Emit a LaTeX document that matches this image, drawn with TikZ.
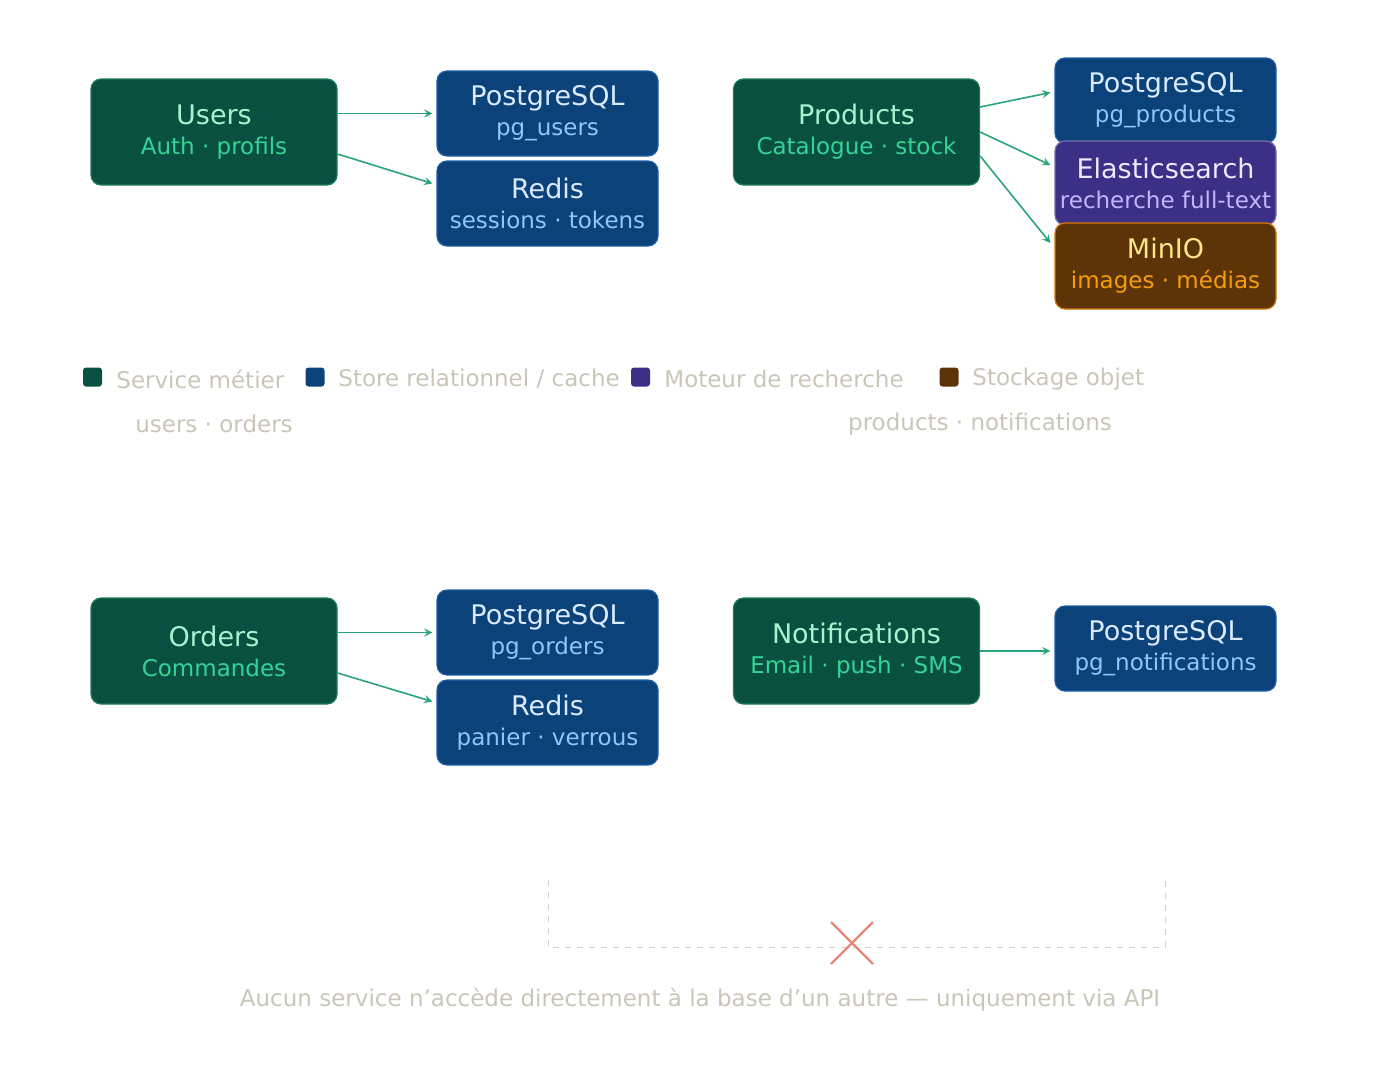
\documentclass[tikz,border=0pt]{standalone}
\usepackage{fontspec}
\setmainfont{DejaVu Sans}
\usetikzlibrary{positioning}
\definecolor{svcfill}{HTML}{0A5040}
\definecolor{svcline}{HTML}{1F7A5C}
\definecolor{svctitle}{HTML}{A7F3D0}
\definecolor{svcsub}{HTML}{34D399}
\definecolor{dbfill}{HTML}{0B4279}
\definecolor{dbline}{HTML}{1E5FA8}
\definecolor{dbtitle}{HTML}{DBEAFE}
\definecolor{dbsub}{HTML}{93C5FD}
\definecolor{esfill}{HTML}{3B3086}
\definecolor{estitle}{HTML}{EDE9FE}
\definecolor{essub}{HTML}{C4B5FD}
\definecolor{objfill}{HTML}{5C3408}
\definecolor{objline}{HTML}{D97706}
\definecolor{objtitle}{HTML}{FDE68A}
\definecolor{objsub}{HTML}{F59E0B}
\definecolor{legtext}{HTML}{C9C6B8}
\definecolor{link}{HTML}{2AA57A}
\definecolor{cross}{HTML}{EA857A}
\newcommand{\tl}[2]{{\fontsize{13.5pt}{14pt}\selectfont #1}\\[3pt]{\fontsize{11.5pt}{12pt}\selectfont #2}}
\begin{document}
\begin{tikzpicture}
  [
    x=0.5pt, y=-0.5pt,
    box/.style={rounded corners=5pt, align=center, inner sep=0pt, line width=0.6pt},
    svc/.style={box, fill=svcfill, draw=svcline, minimum width=123pt, minimum height=53pt},
    db/.style={box, fill=dbfill, draw=dbline, minimum width=110.5pt, minimum height=42.5pt},
    es/.style={box, fill=esfill, draw=esfill!70!white, minimum width=110.5pt, minimum height=42pt},
    obj/.style={box, fill=objfill, draw=objline, minimum width=110.5pt, minimum height=43pt},
    legbox/.style={rounded corners=1.5pt, minimum size=9.5pt, inner sep=0pt},
    legtxt/.style={text=legtext, font=\fontsize{11.5pt}{12pt}\selectfont, anchor=west, inner sep=0pt},
    link/.style={draw=link, line width=0.8pt, ->, >=stealth}
  ]
  \useasboundingbox (0,0) rectangle (1400,1071);
  % top-left: users
  \node[svc, text=svctitle] (users) at (214,132) {\tl{Users}{\color{svcsub}Auth · profils}};
  \node[db, text=dbtitle] (pgusers) at (547.5,113.5) {\tl{PostgreSQL}{\color{dbsub}pg\_users}};
  \node[db, text=dbtitle] (redisusers) at (547.5,203.5) {\tl{Redis}{\color{dbsub}sessions · tokens}};
  % top-right: products
  \node[svc, text=svctitle] (products) at (856.5,132) {\tl{Products}{\color{svcsub}Catalogue · stock}};
  \node[db, text=dbtitle] (pgproducts) at (1165.5,100.5) {\tl{PostgreSQL}{\color{dbsub}pg\_products}};
  \node[es, text=estitle] (elastic) at (1165.5,183) {\tl{Elasticsearch}{\color{essub}recherche full-text}};
  \node[obj, text=objtitle] (minio) at (1165.5,266) {\tl{MinIO}{\color{objsub}images · médias}};
  % bottom-left: orders
  \node[svc, text=svctitle] (orders) at (214,651) {\tl{Orders}{\color{svcsub}Commandes}};
  \node[db, text=dbtitle] (pgorders) at (547.5,632.5) {\tl{PostgreSQL}{\color{dbsub}pg\_orders}};
  \node[db, text=dbtitle] (redisorders) at (547.5,722.5) {\tl{Redis}{\color{dbsub}panier · verrous}};
  % bottom-right: notifications
  \node[svc, text=svctitle] (notif) at (856.5,651) {\tl{Notifications}{\color{svcsub}Email · push · SMS}};
  \node[db, text=dbtitle] (pgnotif) at (1165.5,648.5) {\tl{PostgreSQL}{\color{dbsub}pg\_notifications}};
  % links
  \draw[link] (users.east |- pgusers.west) -- ([xshift=-2pt]pgusers.west);
  \draw[link] ([yshift=-11pt]users.east) -- ([xshift=-2pt,yshift=10pt]redisusers.west);
  \draw[link] ([yshift=12.5pt]products.east) -- ([xshift=-2pt,yshift=4pt]pgproducts.west);
  \draw[link] (products.east) -- ([xshift=-2pt,yshift=9pt]elastic.west);
  \draw[link] ([yshift=-12pt]products.east) -- ([xshift=-2pt,yshift=11.5pt]minio.west);
  \draw[link] (orders.east |- pgorders.west) -- ([xshift=-2pt]pgorders.west);
  \draw[link] ([yshift=-11pt]orders.east) -- ([xshift=-2pt,yshift=10.5pt]redisorders.west);
  \draw[link] (notif.east |- 0,651) coordinate (nstart) -- ([xshift=-2pt]pgnotif.west |- nstart);
  % legend
  \node[legbox, fill=svcfill] (lsvc) at (92.5,377) {};
  \node[legtxt] (tsvc) at (116,379) {Service métier};
  \node[legbox, fill=dbfill] (ldb) at (315,377) {};
  \node[legtxt] (tdb) at (338,379) {Store relationnel / cache};
  \node[legbox, fill=esfill] (les) at (640.5,377) {};
  \node[legtxt] (tes) at (664,379) {Moteur de recherche};
  \node[legbox, fill=objfill] (lobj) at (949,377) {};
  \node[legtxt] (tobj) at (972,379) {Stockage objet};
  \node[text=legtext, font=\fontsize{11.5pt}{12pt}\selectfont] (grpa) at (214,424) {users · orders};
  \node[text=legtext, font=\fontsize{11.5pt}{12pt}\selectfont] (grpb) at (980,424) {products · notifications};
  % isolation
  \coordinate (da) at (548,880);
  \coordinate (db) at (1165,880);
  \draw[legtext!80, dashed, line width=0.5pt] (da) -- (548,947) -- (1165,947) -- (db);
  \draw[cross, line width=1.2pt] (831,922) -- (873,964) (873,922) -- (831,964);
  \node[text=legtext, font=\fontsize{11.5pt}{12pt}\selectfont] (note) at (700,1000) {Aucun service n'accède directement à la base d'un autre — uniquement via API};
\end{tikzpicture}
\end{document}
